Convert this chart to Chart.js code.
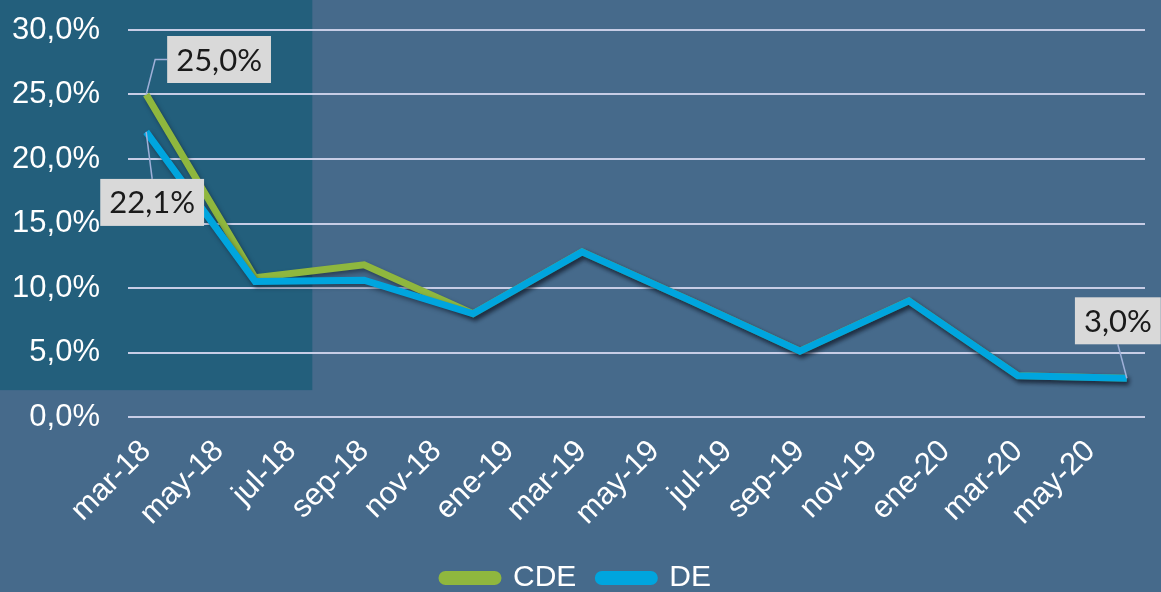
<!DOCTYPE html>
<html>
<head>
<meta charset="utf-8">
<script src="https://cdn.jsdelivr.net/npm/chart.js@4.4.0/dist/chart.umd.min.js"></script>
<style>
  html, body { margin: 0; padding: 0; background: #466a8b; overflow: hidden; }
  #wrap { width: 1161px; height: 592px; position: relative; }
</style>
</head>
<body>
<div id="wrap"><canvas id="chart"></canvas></div>
<script>
// monthly categories, values only at quarter ends
const months = [
    'mar-18', 'abr-18', 'may-18', 'jun-18', 'jul-18', 'ago-18', 'sep-18', 'oct-18', 'nov-18', 'dic-18',
    'ene-19', 'feb-19', 'mar-19', 'abr-19', 'may-19', 'jun-19', 'jul-19', 'ago-19', 'sep-19', 'oct-19',
    'nov-19', 'dic-19', 'ene-20', 'feb-20', 'mar-20', 'abr-20', 'may-20', 'jun-20'
];
const cdeValues = [25.0, null, null, 10.8, null, null, 11.8, null, null, 8.0, null, null, 12.8, null, null,
    9.0, null, null, 5.1, null, null, 9.0, null, null, 3.2, null, null, 3.0];
const deValues = [22.1, null, null, 10.5, null, null, 10.6, null, null, 8.0, null, null, 12.8, null, null,
    9.0, null, null, 5.1, null, null, 9.0, null, null, 3.2, null, null, 3.0];
const yTicks = [0, 5, 10, 15, 20, 25, 30];

// which points carry a callout: [datasetIndex, pointIndex, dx, dy, elbow]
const callouts = [
    [0, 0, 21, -35, 'left'],
    [1, 0, 6, 70, 'top'],
    [1, 27, -9, -34, 'bottom']
];

const fmt = v => v.toFixed(1).replace('.', ',') + '%';

const panelPlugin = {
    id: 'panel',
    beforeDraw(chart) {
        const { ctx, width, height } = chart;
        ctx.save();
        ctx.fillStyle = '#235f7c';
        ctx.fillRect(0, 0, width * 0.269, height * 0.659);
        ctx.restore();
    }
};

const shadowPlugin = {
    id: 'lineShadow',
    beforeDatasetDraw(chart) {
        const ctx = chart.ctx;
        ctx.save();
        ctx.shadowColor = 'rgba(20, 30, 45, 0.55)';
        ctx.shadowBlur = 4;
        ctx.shadowOffsetX = 2;
        ctx.shadowOffsetY = 3;
    },
    afterDatasetDraw(chart) {
        chart.ctx.restore();
    }
};

const calloutPlugin = {
    id: 'callouts',
    afterDatasetsDraw(chart) {
        const ctx = chart.ctx;
        ctx.save();
        ctx.font = '31px Lato';
        callouts.forEach(([di, pi, dx, dy, elbow]) => {
            const pt = chart.getDatasetMeta(di).data[pi];
            const val = chart.data.datasets[di].data[pi];
            const text = fmt(val);
            const w = ctx.measureText(text).width + 18;
            const h = 47;
            let bx, by;
            if (elbow === 'left') { bx = pt.x + dx; by = pt.y + dy - h / 2; }
            else if (elbow === 'top') { bx = pt.x + dx - w / 2; by = pt.y + dy - 23; }
            else { bx = pt.x + dx - w / 2; by = pt.y + dy - h; }

            ctx.strokeStyle = '#9fb0d8';
            ctx.lineWidth = 1.5;
            ctx.beginPath();
            ctx.moveTo(pt.x, pt.y);
            if (elbow === 'left') {
                ctx.lineTo(bx - 12, by + h / 2);
                ctx.lineTo(bx, by + h / 2);
            } else if (elbow === 'top') {
                ctx.lineTo(bx + w / 2, by);
            } else {
                ctx.lineTo(bx + w / 2, by + h);
            }
            ctx.stroke();

            ctx.fillStyle = '#d9d9d9';
            ctx.fillRect(bx, by, w, h);
            ctx.fillStyle = '#1a1a1a';
            ctx.textAlign = 'center';
            ctx.textBaseline = 'middle';
            ctx.fillText(text, bx + w / 2, by + h / 2 + 1);
        });
        ctx.restore();
    }
};

new Chart(document.getElementById('chart'), {
    type: 'line',
    data: {
        labels: months,
        datasets: [
            {
                label: 'CDE',
                data: cdeValues,
                borderColor: '#8fb73e',
                backgroundColor: '#8fb73e',
                borderWidth: 7,
                pointRadius: 0,
                spanGaps: true,
                tension: 0,
                order: 1
            },
            {
                label: 'DE',
                data: deValues,
                borderColor: '#00a5de',
                backgroundColor: '#00a5de',
                borderWidth: 7,
                pointRadius: 0,
                spanGaps: true,
                tension: 0,
                order: 0
            }
        ]
    },
    options: {
        responsive: true,
        maintainAspectRatio: false,
        animation: false,
        layout: { padding: { top: 30, right: 16, left: 8, bottom: -11 } },
        plugins: {
            tooltip: { enabled: false },
            legend: {
                position: 'bottom',
                labels: {
                    color: '#ffffff',
                    font: { family: 'Liberation Sans', size: 30 },
                    boxWidth: 56,
                    boxHeight: 7,
                    useBorderRadius: true,
                    borderRadius: 3.5,
                    padding: 22,
                    sort: (a, b) => a.datasetIndex - b.datasetIndex
                }
            }
        },
        scales: {
            x: {
                offset: true,
                grid: {
                    display: true,
                    drawOnChartArea: false,
                    drawTicks: true,
                    tickLength: 16,
                    color: 'transparent',
                    tickColor: 'transparent'
                },
                border: { display: false },
                ticks: {
                    autoSkip: false,
                    maxRotation: 45,
                    minRotation: 45,
                    padding: 0,
                    color: '#ffffff',
                    font: { family: 'Liberation Sans', size: 31 },
                    callback: (v, i) => (i % 2 === 0 ? months[i] : '')
                },
                afterFit: s => { s.height = 124; }
            },
            y: {
                min: 0,
                max: 30,
                afterBuildTicks: s => { s.ticks = yTicks.map(v => ({ value: v })); },
                grid: {
                    color: '#c7cde6',
                    lineWidth: 2,
                    drawTicks: true,
                    tickLength: 28,
                    tickColor: 'transparent'
                },
                border: { display: false },
                ticks: {
                    padding: 0,
                    color: '#ffffff',
                    font: { family: 'Liberation Sans', size: 31 },
                    callback: v => fmt(v)
                },
                afterFit: s => { s.width = 120; }
            }
        }
    },
    plugins: [panelPlugin, shadowPlugin, calloutPlugin]
});
</script>
</body>
</html>
